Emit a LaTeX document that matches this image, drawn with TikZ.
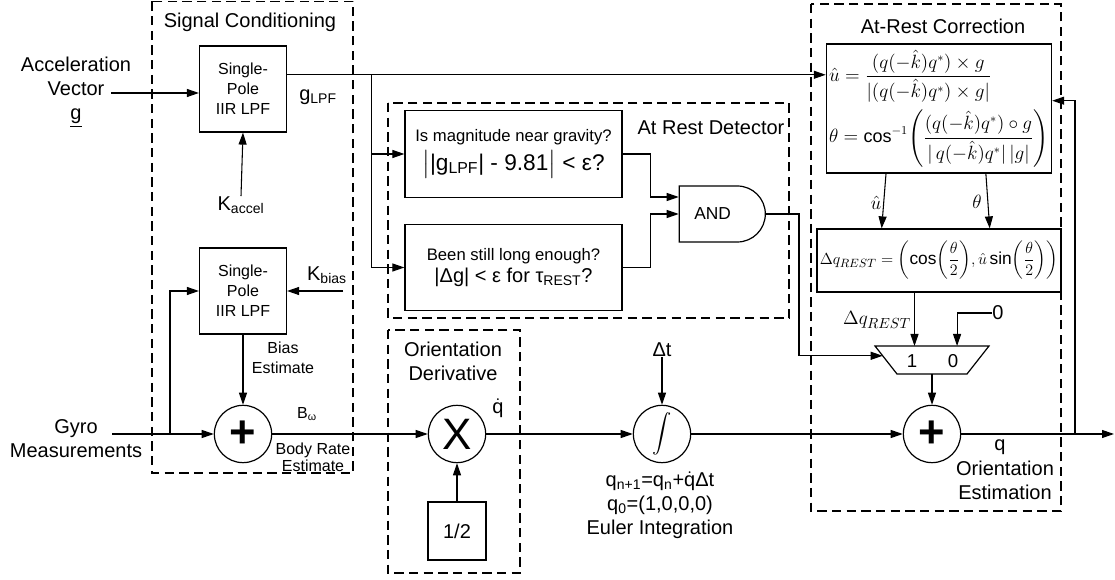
\documentclass[tikz,border=0pt]{standalone}
\usepackage{fontspec}
\setmainfont{Liberation Sans}
\usepackage{amsmath}
\usetikzlibrary{arrows.meta,calc,shapes.misc}
\begin{document}
\begin{tikzpicture}[x=0.75pt,y=-0.75pt,
  ln/.style={line width=0.8pt},
  arr/.style={ln,-{Triangle[length=9pt,width=6pt]}},
  blk/.style={draw,line width=0.9pt,inner sep=2pt,align=center},
  grp/.style={draw,line width=0.8pt,dash pattern=on 7pt off 4pt},
  circ/.style={draw,circle,line width=0.9pt,minimum size=43pt,inner sep=0pt},
  lbl/.style={font=\fontsize{15}{18}\selectfont,align=center,inner sep=0pt},
  small/.style={font=\fontsize{12}{15}\selectfont,align=center,inner sep=0pt},
]
\useasboundingbox (0,0) rectangle (1115,580);

% group frames
\draw[grp] (152,1.5) rectangle (353,473);
\draw[grp] (388,103) rectangle (789,318);
\draw[grp] (388,330) rectangle (520,573);
\draw[grp] (811,4) rectangle (1061,511);

\node[lbl] (tsc) at (250,22) {Signal Conditioning};
\node[lbl] (tard) at (711,128) {At Rest Detector};
\node[lbl] (tod) at (453,361) {Orientation\\Derivative};
\node[lbl] (tarc) at (943,26) {At-Rest Correction};

% signal conditioning
\node[lbl] (acc) at (76,92) {Acceleration\\Vector\\\underline{g}};
\coordinate (accin) at (111,93);
\node[blk,minimum width=65.25pt,minimum height=64.5pt,font=\fontsize{12}{15}\selectfont] (lpf1) at (243,89) {Single-\\Pole\\IIR LPF};
\node[blk,minimum width=65.25pt,minimum height=64.5pt,font=\fontsize{12}{15}\selectfont] (lpf2) at (243,291) {Single-\\Pole\\IIR LPF};
\draw[arr] (accin) -- (accin -| lpf1.west);
\node[lbl] (kacc) at (241,205) {K\textsubscript{accel}};
\draw[arr] (kacc.north) -- (lpf1.south);
\node[lbl] (kbias) at (327,275) {K\textsubscript{bias}};
\coordinate (kbin) at (343,291);
\draw[arr] (kbin) -- (lpf2.east);
\node[lbl] (glpf) at (318,97) {g\textsubscript{LPF}};

\node[lbl] (gyro) at (76,439) {Gyro\\Measurements};
\coordinate (gyin) at (112,434);
\coordinate (gysplit) at (170,434);
\node[circ] (sum1) at (243,434) {\fontsize{34}{34}\selectfont\bfseries +};
\draw[arr] (gyin) -- (sum1.west);
\draw[arr] (gysplit) |- (lpf2.west);
\draw[arr] (lpf2.south) -- (sum1.north);
\node[small] (bias) at (283,358) {Bias\\Estimate};
\node[small] (bw) at (307,414) {B\textsubscript{ω}};
\node[small,font=\fontsize{12}{13}\selectfont] (bre) at (313,457) {Body Rate\\Estimate};

% orientation derivative
\node[circ] (mult) at (457,434) {\fontsize{33}{33}\selectfont X};
\draw[arr] (sum1.east) -- (mult.west);
\node[lbl] (qdot) at (498,408) {$\dot{\text{q}}$};
\node[blk,minimum size=43.5pt,font=\fontsize{15}{18}\selectfont] (half) at (457,531) {1/2};
\draw[arr] (half.north) -- (mult.south);

% integration
\node[circ] (integ) at (662,434) {\fontsize{14}{14}\selectfont$\displaystyle\int$};
\draw[arr] (mult.east) -- (integ.west);
\node[lbl] (dt) at (662,350) {Δt};
\draw[arr] (dt.south) -- (integ.north);
\node[lbl] (euler) at (660,505) {q\textsubscript{n+1}=q\textsubscript{n}+$\dot{\text{q}}$Δt\\q\textsubscript{0}=(1,0,0,0)\\Euler Integration};

% at rest detector
\node[blk,minimum width=162.75pt,minimum height=65.25pt] (d1) at (513.5,154)
  {\fontsize{12.5}{15}\selectfont Is magnitude near gravity?\\[3pt]\fontsize{17}{20}\selectfont $\bigl|$|g\textsubscript{LPF}| - 9.81$\bigr|$ < ε?};
\node[blk,minimum width=162.75pt,minimum height=64pt] (d2) at (513.5,267.5)
  {\fontsize{12.5}{15}\selectfont Been still long enough?\\[2pt]\fontsize{15}{18}\selectfont |Δg| < ε for τ\textsubscript{REST}?};
\coordinate (lpfo) at ($(lpf1.north east)!0.337!(lpf1.south east)$);
\path (lpfo) ++(84.5,0) coordinate (gsplit);
\node[draw,rounded rectangle,rounded rectangle left arc=none,line width=0.9pt,minimum width=64.5pt,minimum height=42pt,inner sep=0pt,font=\fontsize{13}{15}\selectfont] (and) at (722,214) {AND\hspace*{14pt}};
\coordinate (in1) at ([yshift=12.75pt]and.west);
\coordinate (in2) at (and.west);
\draw[arr] (d1.east) -| ($(d1.east)!0.5!(in1)$) |- (in1);
\draw[arr] (d2.east) -| ($(d2.east)!0.5!(in2)$) |- (in2);

% at rest correction
\node[blk,minimum width=166.5pt,minimum height=96.75pt,align=left,font=\fontsize{13.5}{16}\selectfont] (fb) at (939,108.5)
  {$\displaystyle \hat{u}=\frac{(q(-\hat{k})q^{*})\times g}{|(q(-\hat{k})q^{*})\times g|}$\\[4pt]
   $\displaystyle \theta=\cos^{-1}\!\left(\frac{(q(-\hat{k})q^{*})\circ g}{|\,q(-\hat{k})q^{*}|\,|g|}\right)$};
\node[blk,minimum width=166.5pt,minimum height=47.25pt,font=\fontsize{13}{16}\selectfont] (db) at (939,260.5)
  {$\displaystyle \Delta q_{REST}=\left(\cos\!\left(\frac{\theta}{2}\right)\!,\hat{u}\sin\!\left(\frac{\theta}{2}\right)\right)$};
\draw[arr] (lpfo) -- (lpfo -| fb.west);
\draw[arr] (gsplit) |- (d1.west);
\draw[arr] (gsplit) |- (d2.west);
\draw[arr] ($(fb.south west)!0.266!(fb.south east)$) -- ($(db.north west)!0.266!(db.north east)$);
\draw[arr] ($(fb.south west)!0.707!(fb.south east)$) -- ($(db.north west)!0.707!(db.north east)$);
\node[lbl] (ulbl) at (876,203) {$\hat{u}$};
\node[lbl] (tlbl) at (977,202) {$\theta$};

% multiplexer
\coordinate (mtl) at (875,346);
\coordinate (mtr) at (989,346);
\coordinate (mbr) at (967,374);
\coordinate (mbl) at (897,374);
\draw[line width=0.9pt] (mtl) -- (mtr) -- (mbr) -- (mbl) -- cycle;
\node[small,font=\fontsize{14}{16}\selectfont] (m1) at (912,361) {1};
\node[small,font=\fontsize{14}{16}\selectfont] (m0) at (953,361) {0};
\coordinate (dqo) at ($(db.south west)!0.40!(db.south east)$);
\draw[arr] (dqo) -- (dqo |- mtl);
\node[lbl] (dqlbl) at (877,320) {$\Delta q_{REST}$};
\node[lbl] (zero) at (998,313) {0};
\draw[arr] (zero.west) -| ($(mtl)!0.72!(mtr)$);
\coordinate (muxin) at ($(mtl)!0.35!(mbl)$);
\coordinate (andturn) at (799,214);
\draw[arr] (and.east) -- (andturn) |- (muxin);

% output
\node[circ] (sum2) at (932,434) {\fontsize{34}{34}\selectfont\bfseries +};
\draw[arr] ($(mbl)!0.5!(mbr)$) -- (sum2.north);
\draw[arr] (integ.east) -- (sum2.west);
\coordinate (qout) at (1114,434);
\coordinate (fbk) at (1075,434);
\draw[arr] (sum2.east) -- (qout);
\draw[arr] (fbk) |- ($(fb.north east)!0.44!(fb.south east)$);
\node[lbl] (qlbl) at (1000,447) {q};
\node[lbl] (oe) at (1005,480) {Orientation\\Estimation};
\end{tikzpicture}
\end{document}
